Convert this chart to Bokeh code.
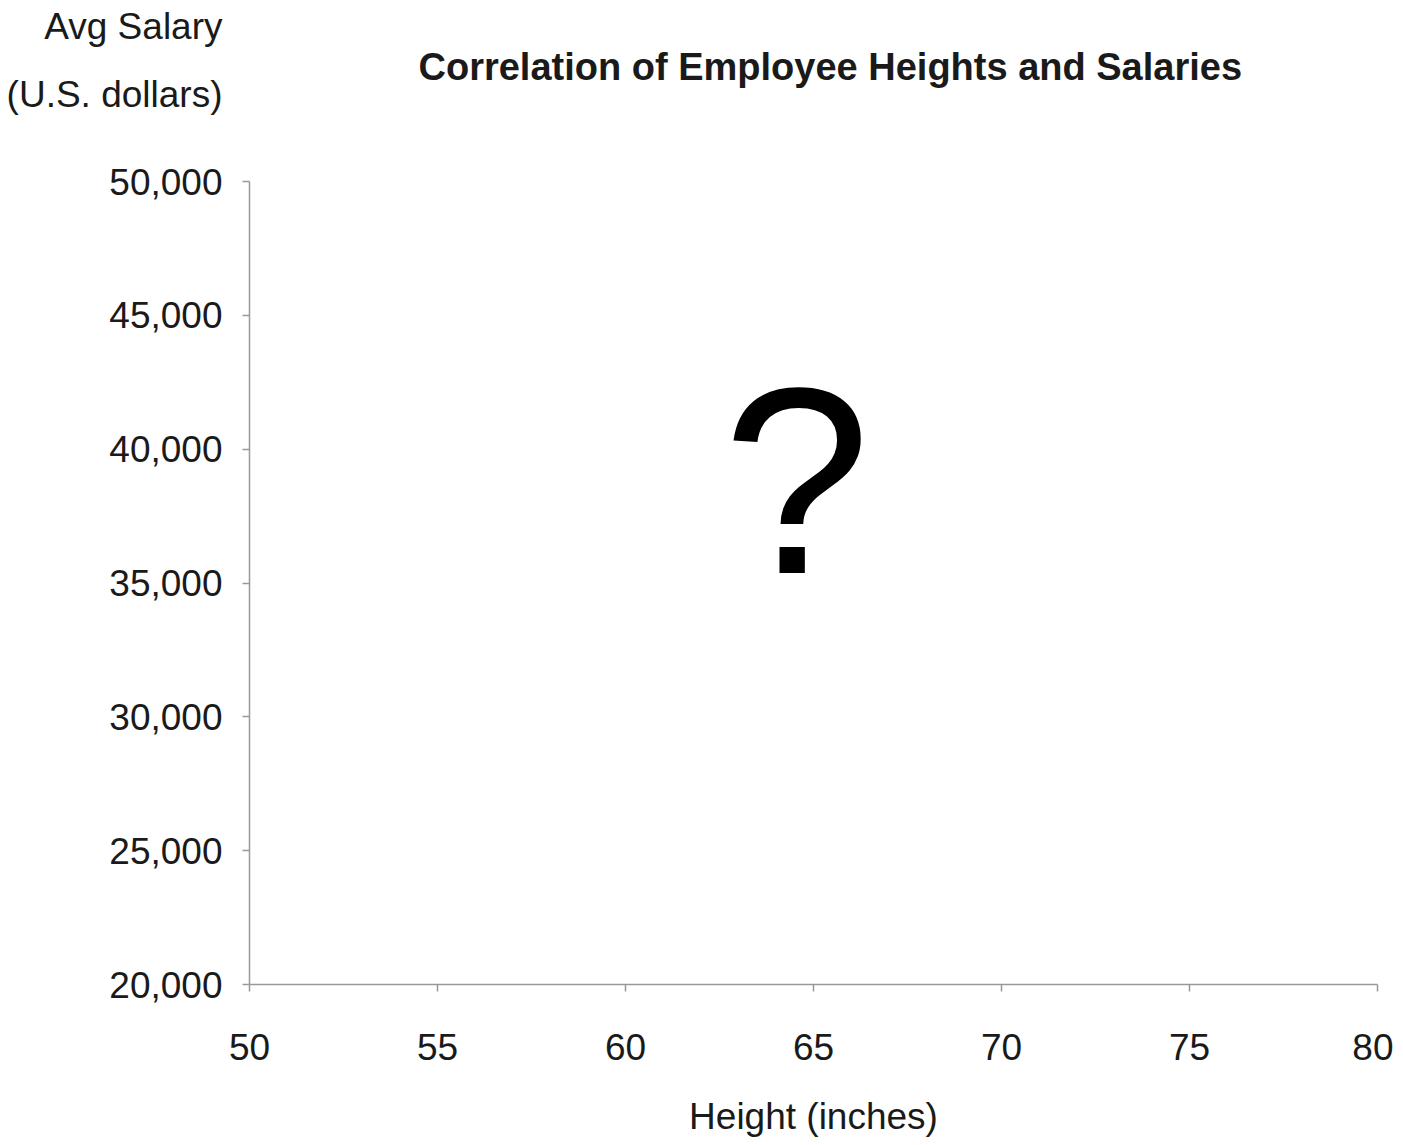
from bokeh.plotting import figure
from bokeh.models import Range1d, FixedTicker, NumeralTickFormatter, Label
from bokeh.embed import file_html
from bokeh.resources import INLINE

# Data (the chart shows no points: the relationship is the open question)
heights = []
salaries = []
x_ticks = [50, 55, 60, 65, 70, 75, 80]
y_ticks = [20000, 25000, 30000, 35000, 40000, 45000, 50000]

title_text = "Correlation of Employee Heights and Salaries"
x_label = "Height (inches)"
y_label_lines = ["Avg Salary", "(U.S. dollars)"]

FONT = "Liberation Sans"
AXIS_COLOR = "#999999"
TEXT_COLOR = "#1a1a1a"

p = figure(
    frame_width=1128, frame_height=803,
    min_border_left=249, min_border_top=181,
    min_border_right=16, min_border_bottom=150,
    x_range=Range1d(x_ticks[0], x_ticks[-1]),
    y_range=Range1d(y_ticks[0], y_ticks[-1]),
    output_backend="svg", toolbar_location=None,
)
p.title_location = None
p.outline_line_color = None
p.xgrid.visible = False
p.ygrid.visible = False
p.background_fill_color = "white"
p.border_fill_color = "white"

p.scatter(x=heights, y=salaries, size=8, color="#1f4e9c")

for ax in (p.xaxis[0], p.yaxis[0]):
    ax.axis_line_color = AXIS_COLOR
    ax.axis_line_width = 1.5
    ax.major_tick_line_color = AXIS_COLOR
    ax.major_tick_line_width = 1.5
    ax.major_tick_out = 7
    ax.major_tick_in = 0
    ax.minor_tick_line_color = None
    ax.major_label_text_font = FONT
    ax.major_label_text_font_size = "37px"
    ax.major_label_text_color = TEXT_COLOR

p.xaxis.ticker = FixedTicker(ticks=x_ticks)
p.yaxis.ticker = FixedTicker(ticks=y_ticks)
p.yaxis.formatter = NumeralTickFormatter(format="0,0")
p.yaxis.major_label_standoff = 20
p.xaxis.major_label_standoff = 42

p.xaxis.axis_label = x_label
p.xaxis.axis_label_text_font = FONT
p.xaxis.axis_label_text_font_size = "37px"
p.xaxis.axis_label_text_font_style = "normal"
p.xaxis.axis_label_text_color = TEXT_COLOR
p.xaxis.axis_label_standoff = 33

# Title (placed in the top side panel so it is not clipped by the frame)
p.add_layout(Label(
    x=x_ticks[0], y=y_ticks[-1], x_units="data", y_units="data",
    x_offset=169, y_offset=115, text=title_text,
    text_font=FONT, text_font_size="38px", text_font_style="bold",
    text_color=TEXT_COLOR, text_align="left", text_baseline="middle",
), "above")

# Y axis label (horizontal, top-left)
for line, off in zip(y_label_lines, [155, 87]):
    p.add_layout(Label(
        x=x_ticks[0], y=y_ticks[-1], x_units="data", y_units="data",
        x_offset=-27, y_offset=off,
        text=line,
        text_font=FONT, text_font_size="37px",
        text_color=TEXT_COLOR, text_align="right", text_baseline="middle",
    ), "above")

# The big question mark in the middle of the empty plot
p.add_layout(Label(
    x=64.55, y=38830, x_units="data", y_units="data",
    text="?", text_font=FONT, text_font_size="266px",
    text_color="black", text_align="center", text_baseline="middle",
))

open("out.html", "w").write(file_html(p, INLINE))
